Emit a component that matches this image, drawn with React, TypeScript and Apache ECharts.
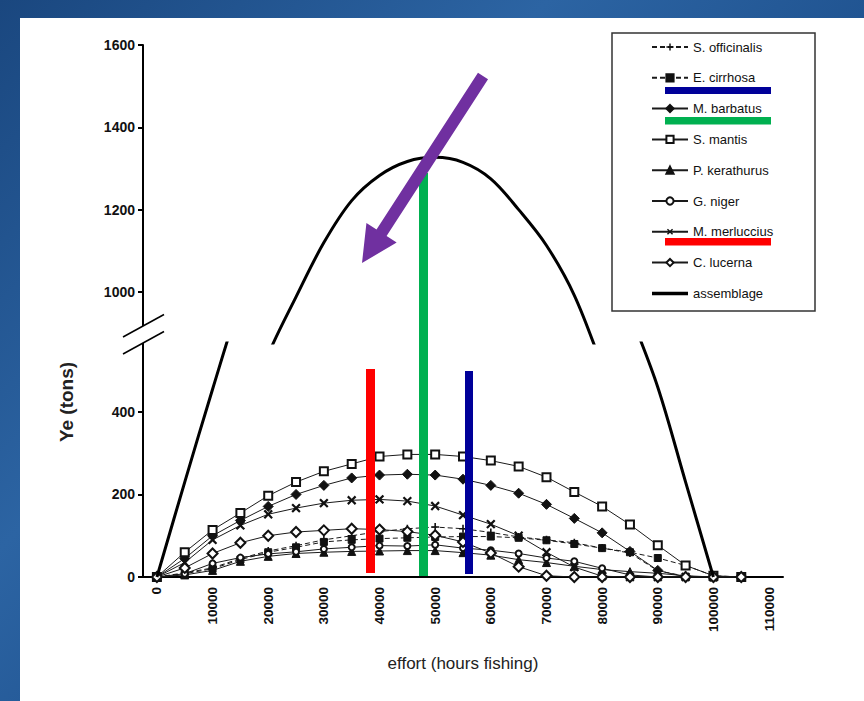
import { useEffect, useRef } from 'react';
import * as echarts from 'echarts';

const effort = ['0', '5000', '10000', '15000', '20000', '25000', '30000', '35000', '40000', '45000', '50000', '55000', '60000', '65000', '70000', '75000', '80000', '85000', '90000', '95000', '100000', '105000', '110000'];
const yTicksTop = [1000, 1200, 1400, 1600];
const yTicksBottom = [0, 200, 400];

const sOfficinalis = [0, 10, 22, 45, 63, 76, 90, 100, 110, 117, 121, 117, 108, 97, 90, 83, 70, 58, 15, 2, 0, 0, null];
const eCirrhosa = [0, 8, 20, 42, 60, 72, 85, 90, 93, 95, 97, 98, 98, 95, 89, 80, 70, 60, 46, 28, 3, 0, null];
const mBarbatus = [0, 45, 100, 137, 171, 200, 222, 240, 247, 249, 247, 237, 222, 203, 176, 142, 107, 62, 16, 0, 0, 0, null];
const sMantis = [0, 60, 114, 155, 197, 230, 256, 274, 292, 297, 297, 292, 282, 268, 242, 206, 171, 127, 77, 28, 3, 0, null];
const pKerathurus = [0, 5, 16, 38, 50, 57, 60, 62, 63, 64, 64, 59, 53, 42, 35, 26, 18, 13, 9, 3, 0, 0, null];
const gNiger = [0, 8, 33, 47, 56, 61, 68, 72, 76, 75, 78, 70, 65, 57, 46, 38, 21, 5, 0, 0, 0, 0, null];
const mMerluccius = [0, 35, 90, 125, 152, 167, 179, 186, 188, 184, 172, 150, 128, 100, 60, 24, 2, 0, 0, 0, 0, 0, null];
const cLucerna = [0, 22, 57, 83, 100, 109, 113, 117, 115, 110, 101, 85, 58, 25, 3, 0, 0, 0, 0, 0, 0, 0, null];
const assemblage = [0, 230, 455, 670, 848, 988, 1120, 1222, 1283, 1317, 1327, 1315, 1275, 1200, 1113, 992, 820, 640, 460, 230, 0, null, null];

const legendNames = ['S. officinalis', 'E. cirrhosa', 'M. barbatus', 'S. mantis', 'P. kerathurus', 'G. niger', 'M. merluccius', 'C. lucerna', 'assemblage'];

const FONT = 'Liberation Sans, Arial, sans-serif';
const PLUS = 'path://M4,0H6V4H10V6H6V10H4V6H0V4H4Z';

function species(name: string, data: (number | null)[], symbol: string, size: number, dashed: boolean, extra: any = {}) {
  return {
    name,
    type: 'line',
    xAxisIndex: 1,
    yAxisIndex: 1,
    data,
    symbol,
    symbolSize: size,
    showSymbol: true,
    connectNulls: false,
    lineStyle: { color: '#1a1a1a', width: 1, type: dashed ? [5, 3] : 'solid' },
    itemStyle: { color: '#111', borderColor: '#111', borderWidth: 1 },
    emphasis: { disabled: true },
    ...extra,
  };
}

function arrowPoints(sx: number, sy: number, tx: number, ty: number, shaftW: number, headW: number, headL: number) {
  const dx = tx - sx;
  const dy = ty - sy;
  const len = Math.hypot(dx, dy);
  const ux = dx / len;
  const uy = dy / len;
  const nx = uy;
  const ny = -ux;
  const bx = tx - ux * headL;
  const by = ty - uy * headL;
  return [
    [sx + nx * shaftW / 2, sy + ny * shaftW / 2],
    [bx + nx * shaftW / 2, by + ny * shaftW / 2],
    [bx + nx * headW / 2, by + ny * headW / 2],
    [tx, ty],
    [bx - nx * headW / 2, by - ny * headW / 2],
    [bx - nx * shaftW / 2, by - ny * shaftW / 2],
    [sx - nx * shaftW / 2, sy - ny * shaftW / 2],
  ];
}

export default function App() {
  const ref = useRef<HTMLDivElement>(null);
  useEffect(() => {
    const chart = echarts.init(ref.current!, null, { renderer: 'svg' });
    const axisLabelStyle = { fontFamily: FONT, fontWeight: 'bold', fontSize: 13, color: '#111' };
    const option: any = {
      animation: false,
      backgroundColor: 'transparent',
      textStyle: { fontFamily: FONT },
      grid: [
        { left: 143, width: 640, top: 45, height: 298 },
        { left: 143, width: 640, top: 343, height: 234 },
      ],
      xAxis: [
        { gridIndex: 0, type: 'category', data: effort, show: false, boundaryGap: true },
        {
          gridIndex: 1,
          type: 'category',
          data: effort,
          boundaryGap: true,
          axisLine: { onZero: false, lineStyle: { color: '#000', width: 2 } },
          axisTick: { interval: 0, length: 6, lineStyle: { color: '#000', width: 1.5 } },
          axisLabel: { ...axisLabelStyle, fontSize: 13.5, interval: 1, rotate: 90, margin: 10 },
          name: 'effort (hours fishing)',
          nameLocation: 'middle',
          nameGap: 78,
          nameTextStyle: { fontFamily: FONT, fontSize: 17, color: '#222' },
          splitLine: { show: false },
        },
      ],
      yAxis: [
        {
          gridIndex: 0,
          type: 'value',
          min: 876,
          max: 1600,
          axisLine: { show: true, lineStyle: { color: '#000', width: 2 } },
          axisTick: { show: true, customValues: yTicksTop, length: 5, lineStyle: { color: '#000', width: 2 } },
          axisLabel: { ...axisLabelStyle, fontSize: 14, customValues: yTicksTop, margin: 8, formatter: (v: number) => String(v) },
          splitLine: { show: false },
        },
        {
          gridIndex: 1,
          type: 'value',
          min: 0,
          max: 567,
          axisLine: { show: true, onZero: false, lineStyle: { color: '#000', width: 2 } },
          axisTick: { show: true, customValues: yTicksBottom, length: 5, lineStyle: { color: '#000', width: 2 } },
          axisLabel: { ...axisLabelStyle, fontSize: 14, customValues: yTicksBottom, margin: 8, formatter: (v: number) => String(v) },
          splitLine: { show: false },
        },
      ],
      legend: {
        orient: 'vertical',
        left: 651,
        top: 40,
        padding: 0,
        itemWidth: 36,
        itemHeight: 9,
        itemGap: 16.8,
        itemTextGap: 3,
        selectedMode: false,
        textStyle: { fontFamily: FONT, fontSize: 13, color: '#111', lineHeight: 14 },
        data: legendNames.map((n) => (n === 'assemblage' ? { name: n, icon: 'path://M0,0H36V3.5H0Z' } : n)),
      },
      series: [
        species('S. officinalis', sOfficinalis, PLUS, 8, true, { itemStyle: { color: '#111', borderWidth: 0 } }),
        species('E. cirrhosa', eCirrhosa, 'rect', 7, true),
        species('M. barbatus', mBarbatus, 'diamond', 10, false),
        species('S. mantis', sMantis, 'emptyRect', 8, false),
        species('P. kerathurus', pKerathurus, 'triangle', 8, false),
        species('G. niger', gNiger, 'emptyCircle', 6, false),
        species('M. merluccius', mMerluccius, PLUS, 11, false, { symbolRotate: 45, itemStyle: { color: '#111', borderWidth: 0 } }),
        species('C. lucerna', cLucerna, 'emptyDiamond', 10, false),
        {
          name: 'assemblage',
          type: 'line',
          xAxisIndex: 0,
          yAxisIndex: 0,
          data: assemblage,
          smooth: 0.35,
          showSymbol: false,
          symbol: 'none',
          lineStyle: { color: '#000', width: 3 },
          itemStyle: { color: '#000' },
          emphasis: { disabled: true },
          z: 5,
        },
        {
          name: 'assemblage',
          type: 'line',
          xAxisIndex: 1,
          yAxisIndex: 1,
          data: assemblage,
          smooth: 0.35,
          showSymbol: false,
          symbol: 'none',
          lineStyle: { color: '#000', width: 3 },
          itemStyle: { color: '#000' },
          emphasis: { disabled: true },
          z: 5,
        },
      ],
      graphic: [
        { type: 'polygon', z: 100, shape: { points: [[123, 337], [164, 314.5], [164, 331.5], [123, 354]] }, style: { fill: '#fff' } },
        { type: 'line', z: 101, shape: { x1: 123, y1: 337, x2: 164, y2: 314.5 }, style: { stroke: '#000', lineWidth: 1.5 } },
        { type: 'line', z: 101, shape: { x1: 123, y1: 354, x2: 164, y2: 331.5 }, style: { stroke: '#000', lineWidth: 1.5 } },
        { type: 'text', z: 100, x: 66, y: 402, rotation: Math.PI / 2, style: { text: 'Ye (tons)', fontFamily: FONT, fontSize: 19, fontWeight: 'bold', fill: '#222', align: 'center', verticalAlign: 'middle' } },
        { type: 'rect', z: 50, shape: { x: 612, y: 33, width: 203, height: 278 }, style: { fill: 'none', stroke: '#333', lineWidth: 1.5 } },
        { type: 'rect', z: 100, shape: { x: 665, y: 87, width: 106, height: 7 }, style: { fill: '#000099' } },
        { type: 'rect', z: 100, shape: { x: 665, y: 117, width: 106, height: 7.5 }, style: { fill: '#00B050' } },
        { type: 'rect', z: 100, shape: { x: 665, y: 238, width: 106, height: 7.5 }, style: { fill: '#FF0000' } },
        { type: 'rect', z: 100, shape: { x: 366, y: 369, width: 9, height: 204 }, style: { fill: '#FF0000' } },
        { type: 'rect', z: 100, shape: { x: 419, y: 173, width: 9, height: 403 }, style: { fill: '#00B050' } },
        { type: 'rect', z: 100, shape: { x: 465, y: 371, width: 8, height: 203 }, style: { fill: '#000099' } },
        { type: 'polygon', z: 110, shape: { points: arrowPoints(483, 76, 362, 263, 12, 36, 36) }, style: { fill: '#7030A0' } },
      ],
    };
    chart.setOption(option);
    return () => chart.dispose();
  }, []);
  return (
    <div style={{ position: 'fixed', left: 0, top: 0, width: 864, height: 701, background: 'linear-gradient(135deg, #1a477f 0%, #2c64a3 35%, #1f528f 60%, #2a5f9c 100%)', overflow: 'hidden' }}>
      <div style={{ position: 'absolute', left: 20, top: 18, right: 0, bottom: 0, background: '#fff' }} />
      <div ref={ref} style={{ position: 'absolute', left: 0, top: 0, width: 864, height: 701 }} />
    </div>
  );
}
